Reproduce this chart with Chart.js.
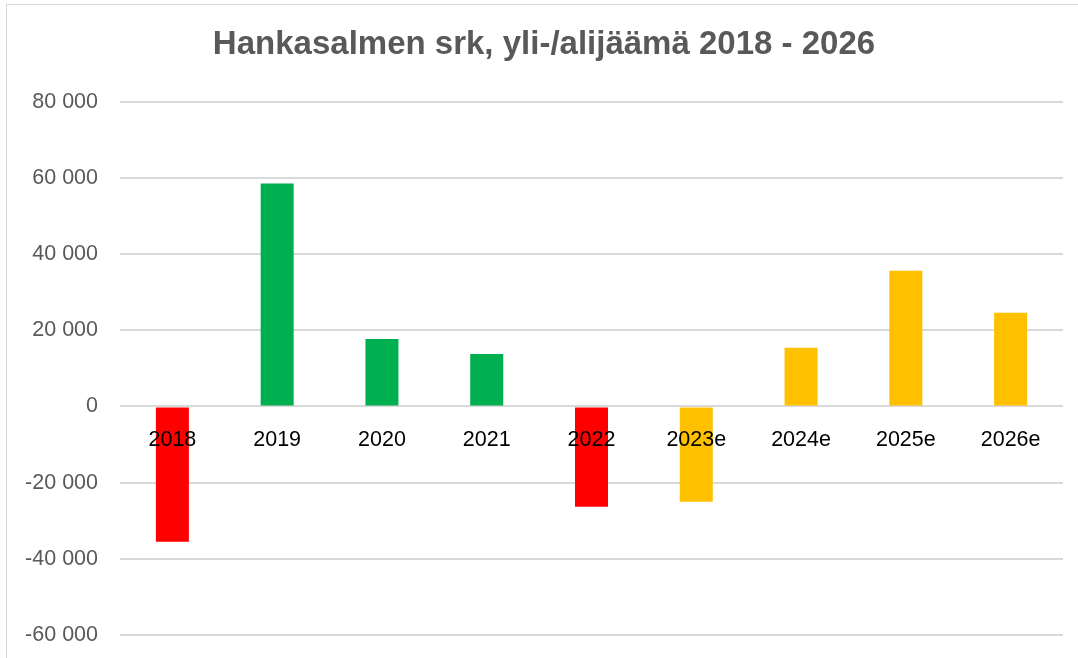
<!DOCTYPE html>
<html>
<head>
<meta charset="utf-8">
<script src="https://cdn.jsdelivr.net/npm/chart.js@4"></script>
<style>
  html, body { margin: 0; padding: 0; background: #fff; overflow: hidden; }
  #wrap { position: relative; width: 1078px; height: 658px; }
  #frame { position: absolute; left: 6px; top: 4px; width: 1080px; height: 700px;
           border: 1.5px solid #d9d9d9; box-sizing: border-box; pointer-events: none; }
</style>
</head>
<body>
<div id="wrap">
  <canvas id="chart" width="1078" height="658"></canvas>
  <div id="frame"></div>
</div>
<script>
// Hankasalmen srk, yli-/alijäämä 2018 - 2026
const years = ['2018', '2019', '2020', '2021', '2022', '2023e', '2024e', '2025e', '2026e'];
const balance = [-35500, 58500, 17700, 13800, -26300, -25000, 15400, 35600, 24600];
const yTicks = [-60000, -40000, -20000, 0, 20000, 40000, 60000, 80000];

// colours: red = deficit, green = surplus, orange = estimate
const barColors = ['#ff0000', '#00b050', '#00b050', '#00b050', '#ff0000', '#ffc000', '#ffc000', '#ffc000', '#ffc000'];

function fmt(v) {
  const s = String(Math.abs(v)).replace(/\B(?=(\d{3})+(?!\d))/g, ' ');
  return (v < 0 ? '-' : '') + s;
}

const ctx = document.getElementById('chart').getContext('2d');
new Chart(ctx, {
  type: 'bar',
  data: {
    labels: years,
    datasets: [{
      data: balance,
      backgroundColor: barColors,
      borderWidth: 0,
      categoryPercentage: 1,
      barPercentage: 0.315
    }]
  },
  options: {
    responsive: false,
    animation: false,
    layout: { padding: { left: 25, right: 15, top: 0, bottom: 0 } },
    plugins: {
      legend: { display: false },
      tooltip: { enabled: false },
      title: {
        display: true,
        text: 'Hankasalmen srk, yli-/alijäämä 2018 - 2026',
        color: '#595959',
        font: { family: 'Liberation Sans', size: 33, weight: 'bold', lineHeight: 1.2 },
        padding: { top: 25, bottom: 37 }
      }
    },
    scales: {
      x: {
        position: { y: 0 },
        afterFit: (scale) => { scale.height = 0; },
        grid: { display: false },
        border: { display: false },
        ticks: {
          z: 1,
          color: '#000',
          padding: 12.5,
          maxRotation: 0,
          font: { family: 'Liberation Sans', size: 21.5 }
        }
      },
      y: {
        min: -66000,
        max: 80000,
        afterBuildTicks: (scale) => {
          scale.ticks = yTicks.map(v => ({ value: v }));
        },
        afterFit: (scale) => {
          scale.width = 95;
          scale.paddingTop = 0;
          scale.paddingBottom = 0;
        },
        grid: { color: '#d9d9d9', lineWidth: 2, drawTicks: false },
        border: { display: false },
        ticks: {
          padding: 22,
          color: '#595959',
          font: { family: 'Liberation Sans', size: 21.5 },
          callback: (v) => fmt(v)
        }
      }
    }
  }
});
</script>
</body>
</html>
